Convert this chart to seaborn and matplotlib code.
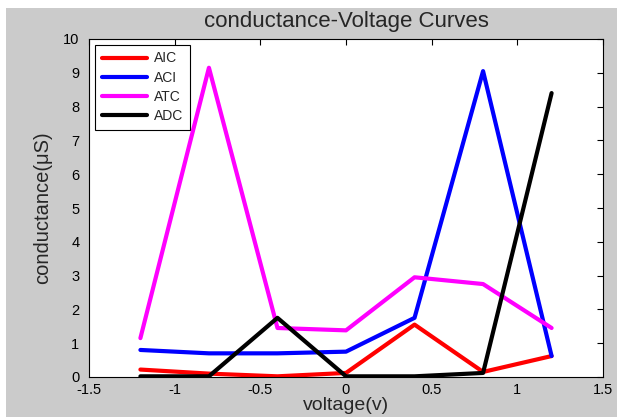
import matplotlib
matplotlib.use("Agg")
import matplotlib.pyplot as plt
import seaborn as sns
import pandas as pd
from matplotlib.patches import Rectangle

voltage = [-1.2, -0.8, -0.4, 0.0, 0.4, 0.8, 1.2]
aic = [0.22, 0.10, 0.02, 0.12, 1.55, 0.15, 0.62]
aci = [0.80, 0.70, 0.70, 0.75, 1.75, 9.05, 0.62]
atc = [1.15, 9.15, 1.45, 1.38, 2.95, 2.75, 1.45]
adc = [0.02, 0.02, 1.75, 0.02, 0.02, 0.12, 8.40]
series_names = ["AIC", "ACI", "ATC", "ADC"]
series_colors = ["#ff0000", "#0000ff", "#ff00ff", "#000000"]
x_ticks = [-1.5, -1, -0.5, 0, 0.5, 1, 1.5]
x_tick_labels = ["-1.5", "-1", "-0.5", "0", "0.5", "1", "1.5"]
y_ticks = list(range(0, 11))

rows = []
for name, vals in zip(series_names, [aic, aci, atc, adc]):
    for v, c in zip(voltage, vals):
        rows.append({"voltage": v, "conductance": c, "series": name})
df = pd.DataFrame(rows)

sns.set_style("white")
plt.rcParams["font.family"] = ["Liberation Sans", "DejaVu Sans"]

fig = plt.figure(figsize=(6.17, 4.17), dpi=100, facecolor="#cbcbcb")
# white strips at top and left (screenshot frame)
fig.patches.append(Rectangle((0, 1 - 8/417), 1, 8/417, transform=fig.transFigure,
                             facecolor="white", edgecolor="none", zorder=0))
fig.patches.append(Rectangle((0, 0), 6/617, 1, transform=fig.transFigure,
                             facecolor="white", edgecolor="none", zorder=0))
ax = fig.add_axes([89/617, 40/417, (603-89)/617, (377-39)/417])
ax.set_facecolor("white")

sns.lineplot(data=df, x="voltage", y="conductance", hue="series",
             hue_order=series_names, palette=series_colors, linewidth=3,
             ax=ax, sort=False, estimator=None)

ax.set_xlim(-1.5, 1.5)
ax.set_ylim(0, 10)
ax.set_xticks(x_ticks)
ax.set_xticklabels(x_tick_labels)
ax.set_yticks(y_ticks)
ax.tick_params(direction="in", length=4, width=0.8, top=True, right=True,
               labelsize=10.5, colors="black")
ax.tick_params(axis="x", pad=4)
ax.tick_params(axis="y", pad=7)
for s in ax.spines.values():
    s.set_visible(True)
    s.set_color("black")
    s.set_linewidth(0.8)

ax.set_xlabel("voltage(v)", fontsize=14, labelpad=0)
ax.set_ylabel("conductance(\u03bcS)", fontsize=14.5, labelpad=8)
ax.set_title("conductance-Voltage Curves", fontsize=16, pad=9)

leg = ax.legend(loc="upper left", bbox_to_anchor=(0.0, 1.0), borderaxespad=0.45,
                frameon=True, fancybox=False, edgecolor="black", framealpha=1,
                fontsize=10, handlelength=3.3, handletextpad=0.5, borderpad=0.45,
                labelspacing=0.38)
leg.get_frame().set_linewidth(0.8)
for line in leg.get_lines():
    line.set_linewidth(3)

fig.savefig("out.png", dpi=100, facecolor=fig.get_facecolor())
